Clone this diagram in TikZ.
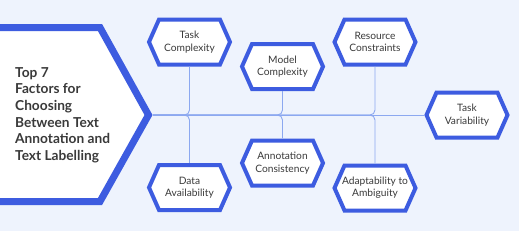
\documentclass[tikz,border=0pt]{standalone}
\usepackage{fontspec}
\setmainfont{Lato}
\definecolor{bgc}{HTML}{EEF3FD}
\definecolor{hexblue}{HTML}{3D5CE0}
\definecolor{linec}{HTML}{8CA8F0}
\definecolor{txt}{HTML}{3A3A3A}
\tikzset{
  hexline/.style={draw=hexblue, line width=4pt, fill=white, line join=miter},
  hexlabel/.style={align=center, text=txt, font=\fontsize{10.2}{12.3}\selectfont, inner sep=0pt, minimum width=85pt, minimum height=49pt},
  conn/.style={draw=linec, line width=0.9pt, rounded corners=5pt},
}
\newcommand{\hexbox}[4]{%
  \path[hexline] (#2-40.5,#3) -- (#2-30.5,#3-22.5) -- (#2+30.5,#3-22.5) -- (#2+40.5,#3) -- (#2+30.5,#3+22.5) -- (#2-30.5,#3+22.5) -- cycle;
  \node[hexlabel] (#1) at (#2,#3) {#4};
}
\begin{document}
\begin{tikzpicture}[x=1pt,y=-1pt]
\useasboundingbox (0,0) rectangle (519,231);
\fill[bgc] (0,0) rectangle (519,231);
\begin{scope}
\clip (0,0) rectangle (519,231);
\path[draw=hexblue, line width=7pt, fill=white, line join=miter] (-10,27.5) -- (100,27.5) -- (148.5,115) -- (100,201.5) -- (-10,201.5) -- cycle;
\end{scope}
\coordinate (tip) at (153,115);
\node[anchor=west, align=left, text=txt, font=\bfseries\fontsize{13.7}{16.6}\selectfont, inner sep=0pt] (title) at (15,115) {Top 7\\Factors for\\Choosing\\Between Text\\Annotation and\\Text Labelling};
% hexagons
\hexbox{tc}{189.5}{42}{Task\\Complexity}
\hexbox{mc}{282.5}{66.5}{Model\\Complexity}
\hexbox{rc}{375}{42}{Resource\\Constraints}
\hexbox{tv}{467}{115}{Task\\Variability}
\hexbox{da}{189.5}{187.5}{Data\\Availability}
\hexbox{ac}{282.5}{163}{Annotation\\Consistency}
\hexbox{aa}{375}{188}{Adaptability to\\Ambiguity}
% connectors
\draw[conn] (tip) -- (tv.west);
\draw[conn] (tc.south) |- (tip);
\draw[conn] (da.north) |- (tip);
\draw[conn] (mc.south) |- (tip);
\draw[conn] (ac.north) |- (tip);
\draw[conn] (rc.south) |- (tip);
\draw[conn] (aa.north) |- (tip);
\end{tikzpicture}
\end{document}
